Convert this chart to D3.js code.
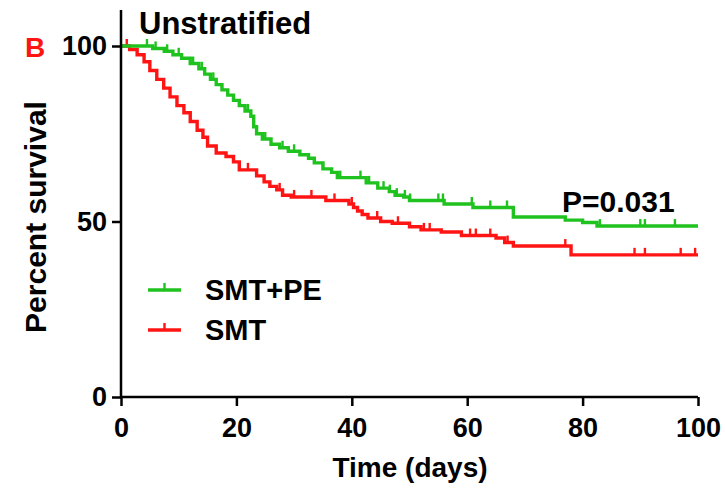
<!DOCTYPE html>
<html>
<head>
<meta charset="utf-8">
<script src="https://cdn.jsdelivr.net/npm/d3@7"></script>
<style>
  html, body { margin: 0; padding: 0; background: #fff; }
  text { font-family: "Liberation Sans", Arial, sans-serif; font-weight: bold; fill: #000; }
</style>
</head>
<body>
<svg id="chart" width="725" height="490"></svg>
<script>
// Kaplan–Meier survival, unstratified cohort
const xTicks = [0, 20, 40, 60, 80, 100];
const yTicks = [0, 50, 100];

// SMT+PE: [day, percent surviving] at each drop
const pePoints = [
  [0, 100], [5.5, 99.3], [7.5, 98.5], [9, 97.5], [10.5, 96.5], [12, 95], [13.5, 93.5],
  [14.5, 92], [15.5, 90.5], [16.5, 89], [17.5, 87.5], [18.5, 86], [19.5, 84.5],
  [20.5, 83], [21.5, 81.5], [22.5, 80], [23, 77], [23.5, 75], [24.5, 73.5], [26, 72],
  [27.5, 71], [29, 70], [31, 69], [32.5, 68], [33.5, 66.7], [35, 65], [36.5, 64],
  [37.5, 62.5], [42.5, 61], [44.5, 59.5], [46.5, 58.5], [47.5, 57.5], [49, 57],
  [50, 56], [56, 55], [61, 54], [68, 51.3], [77, 50.4], [80, 49.7], [82.5, 48.7], [100, 48.7]
];
const peCensored = [4.5, 6, 8, 10, 12.5, 14, 16, 22, 25, 28, 30, 35, 38, 41.5, 43, 45.5,
  46.6, 47.8, 49.2, 50.1, 55, 55.8, 60.8, 64, 66.9, 83, 90, 90.8, 96];

// SMT alone
const smtPoints = [
  [0, 100], [1.5, 99], [2.8, 97.5], [4, 95.5], [5, 93], [6.2, 90.5], [7.4, 88],
  [8.5, 85.5], [9.7, 83], [10.9, 81], [12, 78.5], [13.2, 76], [14.2, 74], [15, 71.5],
  [16.5, 69.5], [18.2, 68.5], [19.5, 67], [20.5, 64.7], [23.5, 63], [24.8, 61.3],
  [25.8, 60], [27, 59], [28, 57.5], [29.5, 57], [35.5, 56], [39.5, 55], [40.3, 54],
  [41, 53], [41.8, 52], [42.8, 51], [45, 50], [47, 49.5], [50, 48.5], [52, 47.6],
  [55.5, 47], [59, 46], [65, 45.3], [66.5, 44], [68, 43], [78, 40.5], [100, 40.5]
];
const smtCensored = [1, 22, 27.5, 30, 33, 37, 40, 44.4, 48, 52.5, 53.5, 60.5, 61.5, 64,
  67, 77, 89, 90.8, 97, 99.5];

const series = [
  { name: "SMT+PE", color: "#1fc21f", points: pePoints, censored: peCensored },
  { name: "SMT", color: "#ff1414", points: smtPoints, censored: smtCensored }
];

const svg = d3.select("#chart");
const x = d3.scaleLinear().domain([0, 100]).range([121, 698]);
const y = d3.scaleLinear().domain([0, 100]).range([397, 46]);

// survival value at time t from a step series
function survivalAt(points, t) {
  let v = points[0][1];
  for (const p of points) { if (p[0] <= t) v = p[1]; else break; }
  return v;
}

const line = d3.line().x(d => x(d[0])).y(d => y(d[1])).curve(d3.curveStepAfter);

// SMT+PE drawn last so it sits on top
[series[1], series[0]].forEach(s => {
  svg.append("path").datum(s.points)
    .attr("d", line).attr("fill", "none")
    .attr("stroke", s.color).attr("stroke-width", 3.4);
  svg.append("g").selectAll("line").data(s.censored).join("line")
    .attr("x1", d => x(d)).attr("x2", d => x(d))
    .attr("y1", d => y(survivalAt(s.points, d)))
    .attr("y2", d => y(survivalAt(s.points, d)) - 7)
    .attr("stroke", s.color).attr("stroke-width", 2.4);
});

// axes
const xAxis = svg.append("g").attr("transform", "translate(0,397)")
  .call(d3.axisBottom(x).tickValues(xTicks).tickSize(9).tickPadding(12));
const yAxis = svg.append("g").attr("transform", "translate(121,0)")
  .call(d3.axisLeft(y).tickValues(yTicks).tickSize(9).tickPadding(5));
[xAxis, yAxis].forEach(g => {
  g.select(".domain").remove();
  g.selectAll(".tick line").attr("stroke", "#000").attr("stroke-width", 2.5);
  g.selectAll(".tick text").style("font-size", "27px").style("font-weight", "bold")
    .attr("fill", "#000").style("font-family", "'Liberation Sans', Arial, sans-serif");
});
svg.append("line").attr("x1", x(0)).attr("x2", x(100)).attr("y1", 397).attr("y2", 397)
  .attr("stroke", "#000").attr("stroke-width", 2.5);
svg.append("line").attr("x1", 121).attr("x2", 121).attr("y1", 10).attr("y2", 398.2)
  .attr("stroke", "#000").attr("stroke-width", 2.5);

// titles
svg.append("text").attr("x", 139).attr("y", 34).style("font-size", "31px").text("Unstratified");
svg.append("text").attr("x", 25).attr("y", 57).style("font-size", "28px")
  .style("fill", "#ff1414").text("B");
svg.append("text").attr("transform", "translate(46,217) rotate(-90)")
  .attr("text-anchor", "middle").style("font-size", "30px").text("Percent survival");
svg.append("text").attr("x", 410).attr("y", 477).attr("text-anchor", "middle")
  .style("font-size", "28px").text("Time (days)");
svg.append("text").attr("x", 562).attr("y", 212).style("font-size", "30px").text("P=0.031");

// legend
const legend = svg.append("g");
series.forEach((s, i) => {
  const ly = 290 + i * 40;
  legend.append("line").attr("x1", 148).attr("x2", 181).attr("y1", ly).attr("y2", ly)
    .attr("stroke", s.color).attr("stroke-width", 3.4);
  legend.append("line").attr("x1", 164.5).attr("x2", 164.5).attr("y1", ly).attr("y2", ly - 7)
    .attr("stroke", s.color).attr("stroke-width", 2.4);
  legend.append("text").attr("x", 205).attr("y", ly + 10).style("font-size", "29px").text(s.name);
});
</script>
</body>
</html>
